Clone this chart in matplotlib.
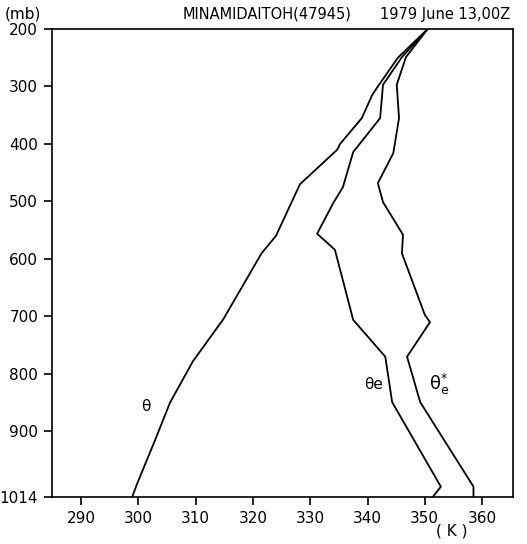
import matplotlib.pyplot as plt

plt.rcParams['mathtext.default'] = 'regular'

p_theta = [200, 250, 300, 315, 355, 400, 410, 470, 560, 590, 705, 778, 850, 915, 990, 1014]
theta = [350.5, 345.3, 341.8, 340.8, 339.0, 335.2, 334.7, 328.2, 324.0, 321.5, 314.8, 309.5, 305.5, 302.9, 299.8, 298.9]

p_thetae = [200, 249, 297, 355, 414, 475, 503, 556, 584, 706, 770, 849, 996, 1014]
thetae = [350.5, 346.0, 342.7, 342.2, 337.5, 335.7, 334.0, 331.2, 334.3, 337.5, 343.1, 344.3, 352.8, 351.4]

p_thetaes = [200, 249, 297, 355, 416, 468, 501, 558, 590, 697, 710, 770, 849, 996, 1014]
thetaes = [350.5, 346.7, 345.1, 345.5, 344.5, 341.8, 342.7, 346.2, 346.0, 350.0, 350.9, 346.9, 349.2, 358.5, 358.5]

xticks = [290, 300, 310, 320, 330, 340, 350, 360]
yticks = [200, 300, 400, 500, 600, 700, 800, 900, 1014]

fig = plt.figure(figsize=(5.27, 5.44), dpi=100)
ax = fig.add_axes([0.0987, 0.0864, 0.8747, 0.8603])

for x, p in [(theta, p_theta), (thetae, p_thetae), (thetaes, p_thetaes)]:
    ax.plot(x, p, color='black', lw=1.3)

ax.set_xlim(284.9, 365.4)
ax.set_ylim(1014, 200)
ax.set_xticks(xticks)
ax.set_yticks(yticks)
ax.tick_params(direction='out', length=6, width=1.2, labelsize=11, pad=4)
for s in ax.spines.values():
    s.set_linewidth(1.2)

# curve labels
ax.text(301.3, 857, 'θ', fontsize=11, ha='center', va='center')
ax.text(341.0, 819, 'θe', fontsize=11, ha='center', va='center')
ax.text(352.6, 818, r'$\theta_e^{*}$', fontsize=13, ha='center', va='center')

fig.text(5 / 527, 1 - 14 / 544, '(mb)', fontsize=11, ha='left', va='center')
fig.text(267 / 527, 1 - 14 / 544, 'MINAMIDAITOH(47945)', fontsize=10.5, ha='center', va='center')
fig.text(510 / 527, 1 - 14 / 544, '1979 June 13,00Z', fontsize=10.5, ha='right', va='center')
fig.text(452 / 527, 1 - 531 / 544, '( K )', fontsize=11, ha='center', va='center')

fig.savefig('out.png', dpi=100)
